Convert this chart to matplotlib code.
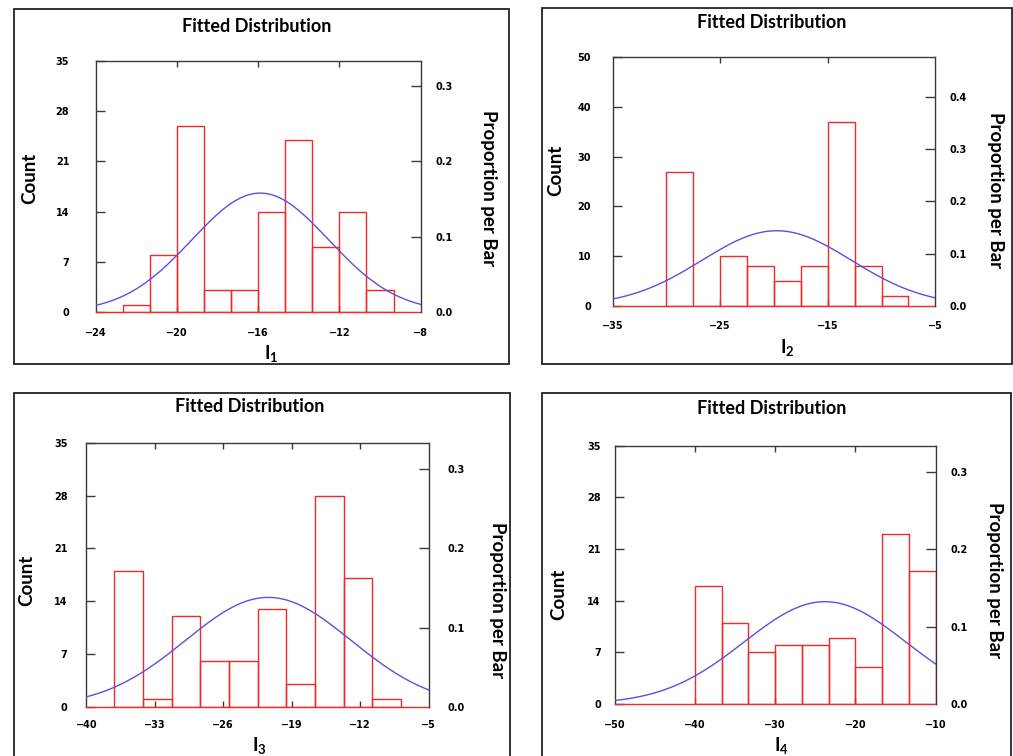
import matplotlib
matplotlib.use('Agg')
import matplotlib.pyplot as plt
import numpy as np
from matplotlib.patches import Rectangle

plt.rcParams['font.family'] = 'DejaVu Sans'
plt.rcParams['font.weight'] = 'bold'
plt.rcParams['mathtext.fontset'] = 'custom'
plt.rcParams['mathtext.rm'] = 'Lato'
plt.rcParams['mathtext.bf'] = 'Lato:bold'

# Dados (bordas das classes, contagens, ajuste normal)
i1_edges = [-22.67, -21.33, -20.0, -18.67, -17.33, -16.0, -14.67, -13.33, -12.0, -10.67, -9.33]
i1_counts = [1, 8, 26, 3, 3, 14, 24, 9, 14, 3]
i1_mean, i1_sd = -15.9, 3.37

i2_edges = [-30.0, -27.5, -25.0, -22.5, -20.0, -17.5, -15.0, -12.5, -10.0, -7.5]
i2_counts = [27, 0, 10, 8, 5, 8, 37, 8, 2]
i2_mean, i2_sd = -19.75, 6.94

i3_edges = [-37.14, -34.21, -31.28, -28.35, -25.42, -22.49, -19.56, -16.63, -13.70, -10.77, -7.84]
i3_counts = [18, 1, 12, 6, 6, 13, 3, 28, 17, 1]
i3_mean, i3_sd = -21.4, 8.47

i4_edges = [-40.0, -36.67, -33.33, -30.0, -26.67, -23.33, -20.0, -16.67, -13.33, -10.0]
i4_counts = [16, 11, 7, 8, 8, 9, 5, 23, 18]
i4_mean, i4_sd = -23.8, 10.07

# Eixos
i1_xticks = [-24, -20, -16, -12, -8]
i2_xticks = [-35, -25, -15, -5]
i3_xticks = [-40, -33, -26, -19, -12, -5]
i4_xticks = [-50, -40, -30, -20, -10]
i1_yticks = [0, 7, 14, 21, 28, 35]
i2_yticks = [0, 10, 20, 30, 40, 50]
i3_yticks = [0, 7, 14, 21, 28, 35]
i4_yticks = [0, 7, 14, 21, 28, 35]
i1_pticks = [0.0, 0.1, 0.2, 0.3]
i2_pticks = [0.0, 0.1, 0.2, 0.3, 0.4]
i3_pticks = [0.0, 0.1, 0.2, 0.3]
i4_pticks = [0.0, 0.1, 0.2, 0.3]

W, H = 1013, 756
fig = plt.figure(figsize=(W / 100, H / 100), dpi=100)
fig.patch.set_facecolor('white')

RED = '#f02828'
BLUE = '#5a4fe0'
GRAY = '#3a3a3a'
LABEL_FONT = 'Lato'


def px_axes(l, t, r, b):
    return fig.add_axes([l / W, 1 - b / H, (r - l) / W, (b - t) / H])


def painel(box, frame, edges, counts, mean, sd, xticks, yticks, pticks,
           nome, pads, title_xy, count_xy, prop_xy, xlab_xy):
    # Moldura do painel
    fl, ft, fr, fb = frame
    fig.patches.append(Rectangle((fl / W, 1 - fb / H), (fr - fl) / W, (fb - ft) / H,
                                 transform=fig.transFigure, fill=False,
                                 edgecolor='#222222', lw=1.3))

    ax = px_axes(*box)
    n = sum(counts)
    edges = np.array(edges)
    widths = np.diff(edges)
    ax.bar(edges[:-1], counts, width=widths, align='edge', fill=False,
           edgecolor=RED, lw=1.0, zorder=3)

    xs = np.linspace(xticks[0], xticks[-1], 300)
    ys = n * widths.mean() * np.exp(-0.5 * ((xs - mean) / sd) ** 2) / (sd * np.sqrt(2 * np.pi))
    ax.plot(xs, ys, color=BLUE, lw=1.0, zorder=4)

    ax.set_xlim(xticks[0], xticks[-1])
    ax.set_ylim(yticks[0], yticks[-1])
    ax.set_xticks(xticks)
    ax.set_xticklabels([f'\u2212{abs(v)}' for v in xticks])
    ax.set_yticks(yticks)
    ax.tick_params(axis='x', direction='in', length=4.5, width=1.0, color=GRAY,
                   top=True, labeltop=False, labelsize=7, pad=pads[2])
    ax.tick_params(axis='y', direction='in', length=6.5, width=1.0, color=GRAY,
                   labelsize=7, pad=pads[0])
    for t in (ax.xaxis.get_major_ticks()[0], ax.xaxis.get_major_ticks()[-1],
              ax.yaxis.get_major_ticks()[0], ax.yaxis.get_major_ticks()[-1]):
        t.tick1line.set_visible(False)
        t.tick2line.set_visible(False)
    for s in ['left', 'top']:
        ax.spines[s].set_color(GRAY)
        ax.spines[s].set_linewidth(1.0)
    ax.spines['bottom'].set_color(RED)
    ax.spines['bottom'].set_linewidth(1.0)
    ax.spines['right'].set_visible(False)

    ax2 = ax.twinx()
    ax2.set_ylim(0, yticks[-1] / n)
    ax2.set_yticks(pticks)
    ax2.set_yticklabels([f'{v:.1f}' for v in pticks])
    ax2.tick_params(axis='y', direction='in', length=7.5, width=1.0, color=GRAY,
                    labelsize=7, pad=pads[1])
    ax2.yaxis.get_major_ticks()[0].tick2line.set_visible(False)
    for s in ['left', 'top', 'bottom']:
        ax2.spines[s].set_visible(False)
    ax2.spines['right'].set_color(GRAY)
    ax2.spines['right'].set_linewidth(1.0)

    fig.text(title_xy[0] / W, 1 - title_xy[1] / H, 'Fitted Distribution',
             family=LABEL_FONT, fontsize=13, weight='bold', ha='center', va='center')
    fig.text(count_xy[0] / W, 1 - count_xy[1] / H, 'Count', rotation=90,
             family=LABEL_FONT, fontsize=13.5, weight='bold', ha='center', va='center')
    fig.text(prop_xy[0] / W, 1 - prop_xy[1] / H, 'Proportion per Bar', rotation=-90,
             family=LABEL_FONT, fontsize=13.5, weight='bold', ha='center', va='center')
    fig.text(xlab_xy[0] / W, 1 - xlab_xy[1] / H, r'$\mathbf{I}_{\mathrm{%s}}$' % nome,
             fontsize=13.5, ha='center', va='baseline')


painel((95.7, 61, 420.7, 312), (13.5, 9.5, 509, 364),
       i1_edges, i1_counts, i1_mean, i1_sd, i1_xticks, i1_yticks, i1_pticks,
       '1', (19, 11, 11.5), (257, 26.7), (30, 178), (488, 188), (271.7, 360))
painel((612.7, 57.3, 935.3, 305.7), (542, 8, 1012, 364),
       i2_edges, i2_counts, i2_mean, i2_sd, i2_xticks, i2_yticks, i2_pticks,
       '2', (15.5, 10.5, 11), (772, 22.3), (556, 170.7), (995, 190), (787, 353.3))
painel((86.3, 442.7, 428.7, 706.7), (13.5, 393, 510, 770),
       i3_edges, i3_counts, i3_mean, i3_sd, i3_xticks, i3_yticks, i3_pticks,
       '3', (13.5, 13.5, 9.5), (249.3, 406.7), (26.7, 580.7), (497.3, 600), (259.3, 751.7))
painel((614.7, 445.7, 935.7, 704), (542, 393, 1011, 770),
       i4_edges, i4_counts, i4_mean, i4_sd, i4_xticks, i4_yticks, i4_pticks,
       '4', (10, 10.5, 11.5), (771.7, 408.3), (558.3, 594), (994, 580), (781.7, 751.7))

fig.savefig('out.png', dpi=100, facecolor='white')
